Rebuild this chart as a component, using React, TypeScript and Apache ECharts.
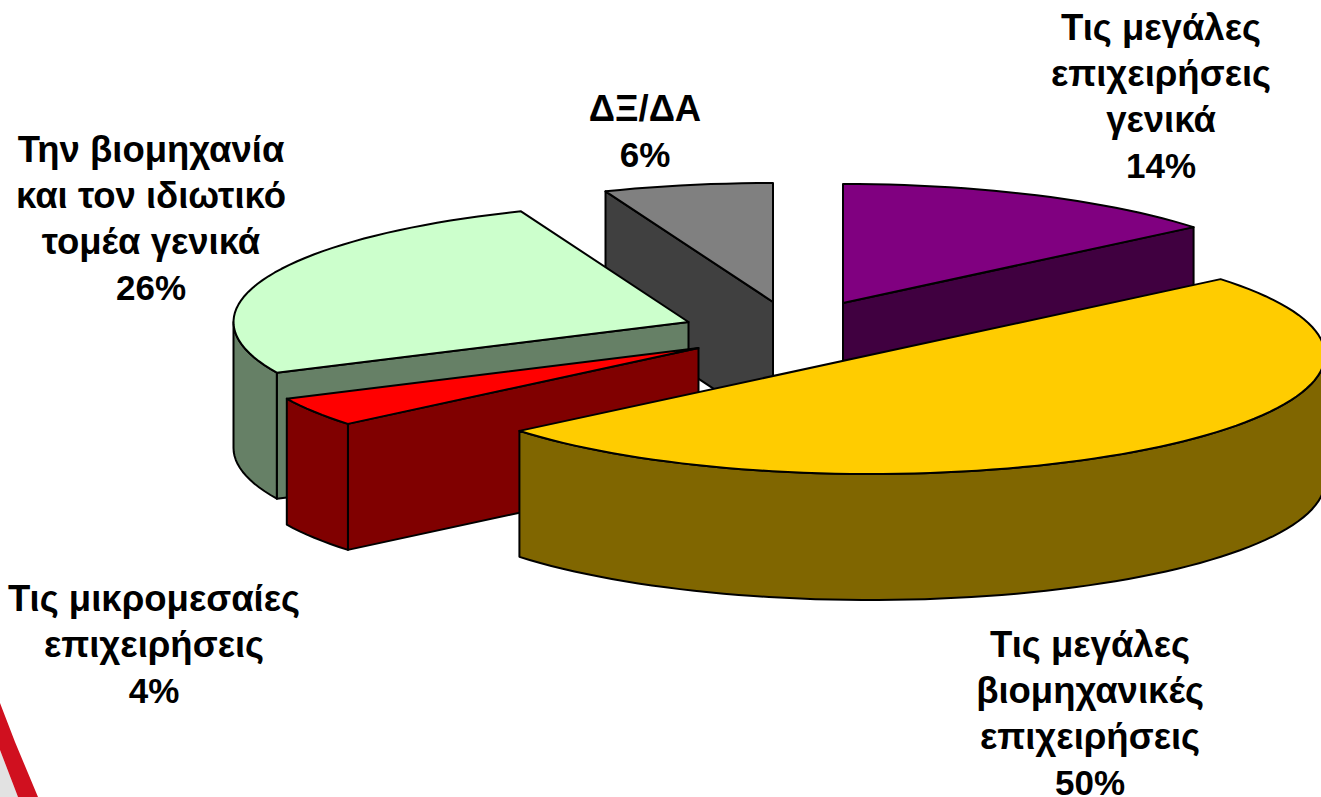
import React, { useEffect, useRef } from "react";
import * as echarts from "echarts";

// Data
const labelLines = [
  ["ΔΞ/ΔΑ"],
  ["Τις μεγάλες", "επιχειρήσεις", "γενικά"],
  ["Τις μεγάλες", "βιομηχανικές", "επιχειρήσεις"],
  ["Τις μικρομεσαίες", "επιχειρήσεις"],
  ["Την βιομηχανία", "και τον ιδιωτικό", "τομέα γενικά"],
];
const percents = [6, 14, 50, 4, 26];

// Layout and style
const W = 1321;
const H = 797;
const FIRST_ANGLE = -111.6;
const RX = 455;
const RY = 119;
const DEPTH = 126;
const NAME_SIZE = 36.5;
const PCT_SIZE = 35;
const LINE_H = 46;
const pieCenter = [798, 335];
const sliceShift = [[-25, -33], [45, -32], [72, 20], [-99.5, 13], [-109.5, -13]];
const topColors = ["#808080", "#800080", "#FFCC00", "#FF0000", "#CCFFCC"];
const sideColors = ["#404040", "#400040", "#806600", "#800000", "#668066"];
const labelAnchors = [[645, 85], [1161, 4], [1090, 621], [154, 575], [151, 126]];
const drawOrder = [0, 1, 4, 3, 2];

const rad = (d: number) => (d * Math.PI) / 180;

function ellipsePts(cx: number, cy: number, a0: number, a1: number) {
  const pts: number[][] = [];
  const n = Math.max(2, Math.ceil(Math.abs(a1 - a0) / 2));
  for (let i = 0; i <= n; i++) {
    const t = rad(a0 + ((a1 - a0) * i) / n);
    pts.push([cx + RX * Math.cos(t), cy + RY * Math.sin(t)]);
  }
  return pts;
}

export default function App() {
  const ref = useRef<HTMLDivElement>(null);
  useEffect(() => {
    document.body.style.margin = "0";
    const chart = echarts.init(ref.current!, null, { renderer: "svg" });

    const sweeps = percents.map((p) => p * 3.6);
    const starts: number[] = [];
    sweeps.reduce((acc, s, i) => {
      starts[i] = acc;
      return acc + s;
    }, FIRST_ANGLE);

    const stroke = { stroke: "#000", lineWidth: 2, lineJoin: "round" as const };

    const renderItem = (_p: any, api: any) => {
      const i = api.value(0) as number;
      const a0 = starts[i];
      const a1 = a0 + sweeps[i];
      const cx = pieCenter[0] + sliceShift[i][0];
      const cy = pieCenter[1] + sliceShift[i][1];
      const side = sideColors[i];
      const children: any[] = [];
      const face = (points: number[][], fill: string) =>
        children.push({ type: "polygon", shape: { points }, style: { fill, ...stroke } });

      // radial wall at the start and end of the slice, when it faces the viewer
      const wall = (a: number, normal: number) => {
        if (Math.sin(rad(normal)) < 0.01) return;
        const t = rad(a);
        const x = cx + RX * Math.cos(t);
        const y = cy + RY * Math.sin(t);
        face([[cx, cy], [x, y], [x, y + DEPTH], [cx, cy + DEPTH]], side);
      };
      wall(a0, a0 - 90);
      wall(a1, a1 + 90);

      // curved rim: the part of the arc on the near half of the ellipse
      for (const [lo, hi] of [[0, 180], [360, 540]]) {
        const r0 = Math.max(a0, lo);
        const r1 = Math.min(a1, hi);
        if (r1 > r0) {
          const arc = ellipsePts(cx, cy, r0, r1);
          const low = arc.map(([x, y]) => [x, y + DEPTH]).reverse();
          face([...arc, ...low], side);
        }
      }

      // top
      face([[cx, cy], ...ellipsePts(cx, cy, a0, a1)], topColors[i]);
      return { type: "group", children };
    };

    const FONT = '"Liberation Sans", Arial, sans-serif';
    const labels: any[] = labelLines.map((lines, i) => ({
      type: "text",
      x: labelAnchors[i][0],
      y: labelAnchors[i][1],
      z: 20,
      style: {
        text: [...lines.map((l) => `{n|${l}}`), `{p|${percents[i]}%}`].join("\n"),
        fill: "#000",
        align: "center",
        verticalAlign: "top",
        rich: {
          n: { fontFamily: FONT, fontWeight: "bold", fontSize: NAME_SIZE, lineHeight: LINE_H, fill: "#000" },
          p: { fontFamily: FONT, fontWeight: "bold", fontSize: PCT_SIZE, lineHeight: LINE_H, fill: "#000" },
        },
      },
    }));

    chart.setOption({
      animation: false,
      backgroundColor: "#fff",
      graphic: [
        {
          type: "polygon",
          shape: { points: [[0, 750], [18, 797], [0, 797]] },
          style: { fill: "#e2e2e2" },
          z: 0,
        },
        {
          type: "polygon",
          shape: { points: [[0, 703], [15, 742], [38, 797], [18, 797], [0, 750]] },
          style: { fill: "#D0101F" },
          z: 0,
        },
        ...labels,
      ],
      series: [
        {
          type: "custom",
          coordinateSystem: "none",
          renderItem,
          silent: true,
          data: drawOrder.map((i) => [i]),
          z: 5,
        },
      ],
    });
    return () => chart.dispose();
  }, []);
  return <div ref={ref} style={{ width: W, height: H, position: "absolute", left: 0, top: 0 }} />;
}
